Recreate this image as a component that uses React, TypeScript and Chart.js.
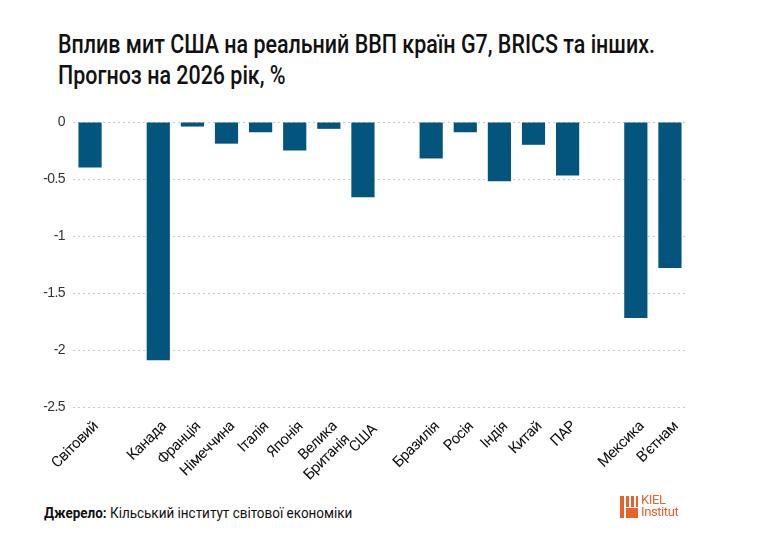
import { useEffect, useLayoutEffect, useRef } from 'react';
import type { CSSProperties, ReactNode } from 'react';
import { Chart, registerables } from 'chart.js';

Chart.register(...registerables);

const NARROW = "'Roboto', 'Liberation Sans', sans-serif";

// groups of countries, a blank slot goes between groups
const worldLabels = ['Світовий'];
const worldValues = [-0.4];
const g7Labels: (string | string[])[] = ['Канада', 'Франція', 'Німеччина', 'Італія', 'Японія', ['Велика', 'Британія'], 'США'];
const g7Values = [-2.09, -0.04, -0.19, -0.09, -0.25, -0.06, -0.66];
const bricsLabels = ['Бразилія', 'Росія', 'Індія', 'Китай', 'ПАР'];
const bricsValues = [-0.32, -0.09, -0.52, -0.2, -0.47];
const otherLabels = ['Мексика', 'В’єтнам'];
const otherValues = [-1.72, -1.28];

const yTicks = [0, -0.5, -1, -1.5, -2, -2.5];

const categories = [...worldLabels, '', ...g7Labels, '', ...bricsLabels, '', ...otherLabels];
const values = [...worldValues, null, ...g7Values, null, ...bricsValues, null, ...otherValues];

// squeeze a text block horizontally to a given width (the original uses a condensed face)
function Fit({ width, style, children }: { width: number; style: CSSProperties; children: ReactNode }) {
    const ref = useRef<HTMLDivElement>(null);
    useLayoutEffect(() => {
        const el = ref.current!;
        el.style.transform = '';
        const w = el.scrollWidth;
        el.style.transform = `scaleX(${width / w})`;
    }, [width]);
    return (
        <div ref={ref} style={{ ...style, position: 'absolute', whiteSpace: 'nowrap', transformOrigin: 'left top' }}>
            {children}
        </div>
    );
}

const condensed = {
    id: 'condensed',
    beforeLayout(chart: Chart) {
        (chart.ctx as any).letterSpacing = '-0.6px';
    },
    beforeDraw(chart: Chart) {
        (chart.ctx as any).letterSpacing = '-0.6px';
    },
};

// the label after the two-line one sits a little further out, as in the original
const labelNudge = {
    id: 'labelNudge',
    beforeDraw(chart: Chart) {
        const scale: any = chart.scales.x;
        const items = scale.getLabelItems(chart.chartArea);
        items.forEach((item: any, i: number) => {
            if (item._nudged) return;
            item._nudged = true;
            const prev = items[i - 1];
            if (prev && Array.isArray(prev.label) && prev.label.length > 1) {
                item.options.translation[0] += 6;
                item.options.translation[1] += 3;
            }
        });
    },
};

export default function App() {
    const canvasRef = useRef<HTMLCanvasElement>(null);

    useEffect(() => {
        const ctx = canvasRef.current!.getContext('2d')!;
        const chart = new Chart(ctx, {
            type: 'bar',
            data: {
                labels: categories,
                datasets: [
                    {
                        data: values,
                        backgroundColor: '#03557d',
                        categoryPercentage: 1,
                        barPercentage: 0.68,
                    },
                ],
            },
            plugins: [condensed, labelNudge],
            options: {
                animation: false,
                responsive: false,
                devicePixelRatio: 1,
                layout: { padding: { left: 30, top: 122, right: 77, bottom: 5 } },
                plugins: {
                    legend: { display: false },
                    tooltip: { enabled: false },
                },
                scales: {
                    x: {
                        grid: { display: false },
                        border: { display: false },
                        ticks: {
                            autoSkip: false,
                            maxRotation: 45,
                            minRotation: 45,
                            padding: 3,
                            labelOffset: 6,
                            color: '#111',
                            font: { family: NARROW, size: 15 },
                        },
                        afterFit: (scale: any) => {
                            scale.height = 88;
                        },
                    },
                    y: {
                        min: -2.5,
                        max: 0,
                        grid: { color: '#c8c8c8', drawTicks: false, lineWidth: 1 },
                        border: { display: false, dash: [2, 3] },
                        ticks: {
                            stepSize: 0.5,
                            padding: 8,
                            color: '#333',
                            font: { family: "'Liberation Sans', Arial, sans-serif", size: 14 },
                            callback: (v: any) => (yTicks.includes(Number(v)) ? String(v) : ''),
                        },
                        afterFit: (scale: any) => {
                            scale.width = 43;
                        },
                    },
                },
            },
        });
        return () => {
            chart.destroy();
        };
    }, []);

    const orange = '#e8622c';

    return (
        <div style={{ position: 'absolute', left: 0, top: 0, width: 764, height: 540, background: '#fff', overflow: 'hidden' }}>
            <Fit
                width={597}
                style={{
                    left: 58,
                    top: 29,
                    fontFamily: NARROW,
                    fontWeight: 500,
                    fontSize: 25,
                    lineHeight: '31px',
                    color: '#111',
                }}
            >
                Вплив мит США на реальний ВВП країн G7, BRICS та інших.
                <br />
                Прогноз на 2026 рік, %
            </Fit>
            <canvas ref={canvasRef} width={764} height={500} style={{ position: 'absolute', left: 0, top: 0, width: 764, height: 500 }} />
            <Fit
                width={308}
                style={{
                    left: 44,
                    top: 504,
                    fontFamily: NARROW,
                    fontSize: 15,
                    color: '#111',
                }}
            >
                <b>Джерело:</b> Кільський інститут світової економіки
            </Fit>
            <div style={{ position: 'absolute', left: 620, top: 496, width: 18, height: 22 }}>
                <div style={{ position: 'absolute', left: 0, top: 0, width: 4, height: 22, background: orange }} />
                <div style={{ position: 'absolute', left: 6, top: 0, width: 3, height: 11, background: orange }} />
                <div style={{ position: 'absolute', left: 11, top: 0, width: 3, height: 11, background: orange }} />
                <div style={{ position: 'absolute', left: 16, top: 0, width: 2, height: 11, background: orange }} />
                <div style={{ position: 'absolute', left: 6, top: 12, width: 12, height: 10, background: orange }} />
            </div>
            <div
                style={{
                    position: 'absolute',
                    left: 641,
                    top: 494,
                    fontFamily: "'Roboto', sans-serif",
                    fontSize: 13,
                    lineHeight: '12px',
                    color: orange,
                    letterSpacing: '-0.4px',
                }}
            >
                KIEL
                <br />
                Institut
            </div>
        </div>
    );
}
